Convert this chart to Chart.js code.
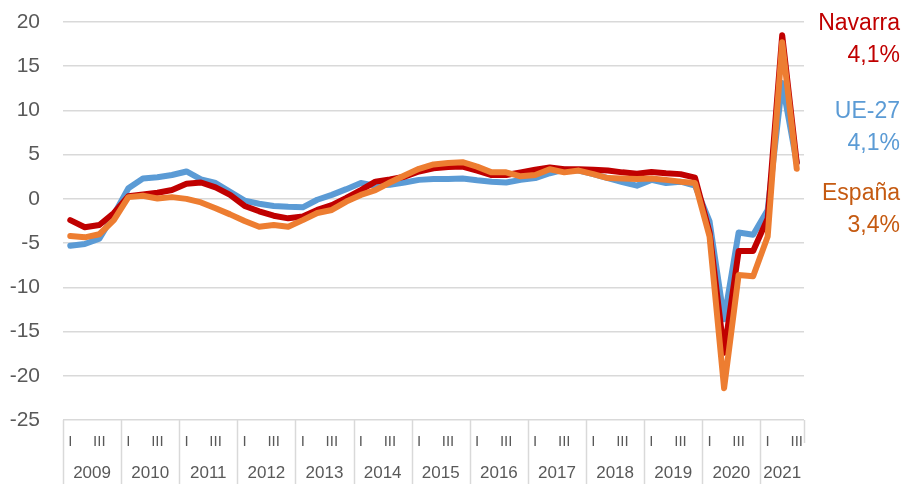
<!DOCTYPE html>
<html>
<head>
<meta charset="utf-8">
<script src="https://cdn.jsdelivr.net/npm/chart.js@4.4.1/dist/chart.umd.min.js"></script>
<style>
  html, body { margin: 0; padding: 0; background: #fff; }
  #wrap { width: 904px; height: 484px; }
</style>
</head>
<body>
<div id="wrap"><canvas id="grafico" width="904" height="484"></canvas></div>
<script>
// años y trimestres
var anios = ['2009','2010','2011','2012','2013','2014','2015','2016','2017','2018','2019','2020','2021'];
var trimestres = ['I','II','III','IV'];
var etiquetasY = [20, 15, 10, 5, 0, -5, -10, -15, -20, -25];

var nombres = ['España', 'Navarra', 'UE-27'];

var navarra = [-2.4, -3.2, -2.95, -1.6, 0.3, 0.5, 0.7, 1.0, 1.7, 1.85, 1.3, 0.45,
  -0.8, -1.4, -1.9, -2.2, -2.0, -1.25, -0.7, 0.1, 1.0, 1.95, 2.2, 2.5,
  3.1, 3.45, 3.6, 3.65, 3.2, 2.7, 2.7, 3.0, 3.3, 3.55, 3.35, 3.35,
  3.3, 3.2, 3.0, 2.85, 3.05, 2.9, 2.8, 2.4, -3.8, -17.4, -5.9, -5.9,
  -2.2, 18.5, 4.1];

var ue27 = [-5.3, -5.1, -4.5, -1.8, 1.2, 2.3, 2.45, 2.7, 3.1, 2.2, 1.8, 0.8,
  -0.2, -0.55, -0.8, -0.9, -0.95, -0.1, 0.45, 1.1, 1.8, 1.5, 1.6, 1.85,
  2.15, 2.25, 2.25, 2.3, 2.1, 1.95, 1.85, 2.15, 2.35, 2.9, 3.3, 3.2,
  2.8, 2.35, 1.9, 1.5, 2.15, 1.8, 1.95, 1.5, -2.55, -13.6, -3.8, -4.05,
  -1.25, 13.1, 4.1];

var espana = [-4.2, -4.35, -4.0, -2.4, 0.2, 0.35, 0.05, 0.2, 0.0, -0.4, -1.05, -1.75,
  -2.5, -3.15, -2.95, -3.15, -2.4, -1.6, -1.25, -0.3, 0.45, 1.0, 1.85, 2.65,
  3.4, 3.9, 4.05, 4.15, 3.65, 3.0, 3.0, 2.55, 2.7, 3.35, 3.0, 3.2,
  2.8, 2.35, 2.3, 2.25, 2.3, 2.15, 1.95, 1.8, -4.25, -21.4, -8.6, -8.75,
  -4.25, 17.7, 3.4];

var colores = ['#ED7D31', '#C00000', '#5B9BD5'];
var coloresTexto = ['#C55A11', '#C00000', '#5B9BD5'];

var fuente = '"Liberation Sans", Arial, sans-serif';
var grisTexto = '#595959';
var grisLinea = '#D9D9D9';

// etiquetas del eje X (un punto por trimestre)
var etiquetas = [];
for (var i = 0; i < espana.length; i++) {
    etiquetas.push(trimestres[i % 4]);
}

function formatear(v) {
    return v.toFixed(1).replace('.', ',') + '%';
}

// fila de años con separadores
var filaAnios = {
    id: 'filaAnios',
    afterDraw: function (chart) {
        var ctx = chart.ctx;
        var x = chart.scales.x;
        var area = chart.chartArea;
        var n = etiquetas.length;
        ctx.save();
        ctx.strokeStyle = grisLinea;
        ctx.lineWidth = 1.5;
        ctx.fillStyle = grisTexto;
        ctx.font = '17px ' + fuente;
        ctx.textAlign = 'center';
        ctx.textBaseline = 'middle';
        for (var k = 0; k < anios.length; k++) {
            var ini = k * 4;
            var fin = Math.min(ini + 4, n);
            var izq = ini == 0 ? area.left : (x.getPixelForValue(ini - 1) + x.getPixelForValue(ini)) / 2;
            var der = fin >= n ? area.right : (x.getPixelForValue(fin - 1) + x.getPixelForValue(fin)) / 2;
            ctx.beginPath();
            ctx.moveTo(Math.round(izq) + 0.5, area.bottom);
            ctx.lineTo(Math.round(izq) + 0.5, chart.height);
            ctx.stroke();
            if (fin >= n) {
                ctx.beginPath();
                ctx.moveTo(Math.round(der) + 0.5, area.bottom);
                ctx.lineTo(Math.round(der) + 0.5, area.bottom + 23);
                ctx.stroke();
            }
            ctx.fillText(anios[k], (izq + der) / 2, area.bottom + 53);
        }
        ctx.restore();
    }
};

// rótulos de la derecha
var rotulos = {
    id: 'rotulos',
    afterDraw: function (chart) {
        var ctx = chart.ctx;
        var orden = [1, 2, 0];
        var bases = [[29.5, 61.5], [118, 150], [200, 232]];
        ctx.save();
        ctx.font = '23px ' + fuente;
        ctx.textAlign = 'right';
        ctx.textBaseline = 'alphabetic';
        orden.forEach(function (d, j) {
            var ds = chart.data.datasets[d];
            ctx.fillStyle = coloresTexto[d];
            ctx.fillText(ds.label, 900, bases[j][0]);
            ctx.fillText(formatear(ds.data[ds.data.length - 1]), 900, bases[j][1]);
        });
        ctx.restore();
    }
};

var series = [espana, navarra, ue27];

new Chart(document.getElementById('grafico'), {
    type: 'line',
    data: {
        labels: etiquetas,
        datasets: series.map(function (s, d) {
            return {
                label: nombres[d],
                data: s,
                borderColor: colores[d],
                backgroundColor: colores[d],
                borderWidth: 6,
                pointRadius: 0,
                borderJoinStyle: 'round',
                borderCapStyle: 'round',
                tension: 0,
                fill: false
            };
        })
    },
    options: {
        responsive: false,
        animation: false,
        devicePixelRatio: 1,
        layout: { padding: { top: 22, right: 100, left: 0, bottom: 0 } },
        plugins: {
            legend: { display: false },
            tooltip: { enabled: false }
        },
        scales: {
            x: {
                offset: true,
                grid: { display: false, drawTicks: false },
                border: { display: false },
                ticks: {
                    autoSkip: false,
                    maxRotation: 0,
                    padding: 13,
                    color: grisTexto,
                    font: { family: fuente, size: 15 },
                    callback: function (v, i) {
                        var t = etiquetas[i];
                        return (t == 'I' || t == 'III') ? t : '';
                    }
                },
                afterFit: function (s) {
                    s.height = 64;
                    s.paddingLeft = 0;
                    s.paddingRight = 0;
                }
            },
            y: {
                min: -25,
                max: 20,
                grid: { color: grisLinea, lineWidth: 1.5, drawTicks: false },
                border: { display: false },
                afterBuildTicks: function (s) {
                    s.ticks = etiquetasY.map(function (v) { return { value: v }; });
                },
                ticks: {
                    padding: 23,
                    color: grisTexto,
                    font: { family: fuente, size: 21 }
                },
                afterFit: function (s) {
                    s.width = 63;
                    s.paddingTop = 0;
                    s.paddingBottom = 0;
                }
            }
        }
    },
    plugins: [filaAnios, rotulos]
});
</script>
</body>
</html>
